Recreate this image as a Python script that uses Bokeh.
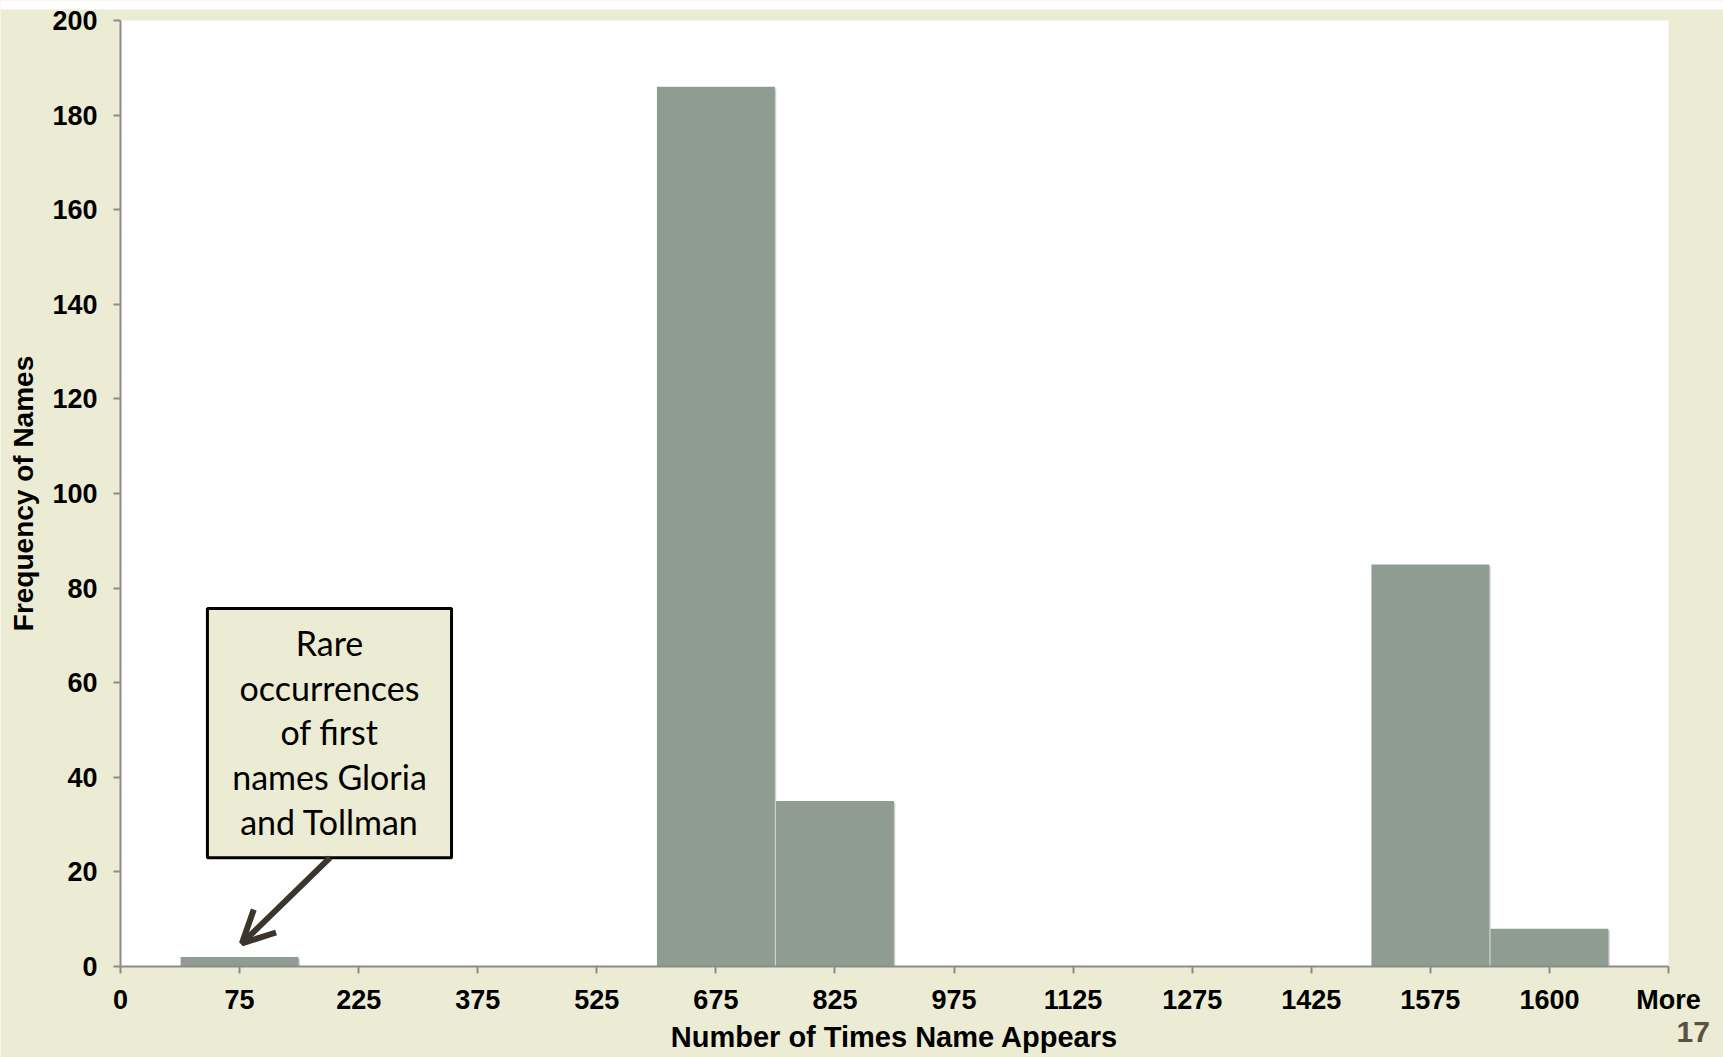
from bokeh.plotting import figure
from bokeh.models import Range1d, FixedTicker, BoxAnnotation, Arrow, OpenHead, Label
from bokeh.embed import file_html
from bokeh.resources import INLINE

# ---- data ----
categories = ["0", "75", "225", "375", "525", "675", "825", "975",
              "1125", "1275", "1425", "1575", "1600", "More"]
counts = [0, 2, 0, 0, 0, 186, 35, 0, 0, 0, 0, 85, 8, 0]
y_ticks = [0, 20, 40, 60, 80, 100, 120, 140, 160, 180, 200]
note_lines = ["Rare", "occurrences", "of first", "names Gloria", "and Tollman"]
page_number = "17"

BEIGE = "#ECEBD3"
BAR = "#8e9c92"
AXIS = "#8c8c8c"

# ---- page layout (pixels) ----
W, H = 1723, 1057
PLOT_L, PLOT_R, PLOT_T, PLOT_B = 120, 1668, 20, 966
Y_MAX = 200
n_pos = len(categories) - 1

positions = list(range(len(categories)))

# The frame spans the whole page so that the page number can sit outside the
# plot area; the axes are pinned to the data origin.
ux = (PLOT_R - PLOT_L) / n_pos
uy = (PLOT_B - PLOT_T) / Y_MAX
x_range = Range1d(-PLOT_L / ux, n_pos + (W - PLOT_R) / ux)
y_range = Range1d(-(H - PLOT_B) / uy, Y_MAX + PLOT_T / uy)

p = figure(width=W, height=H, x_range=x_range, y_range=y_range,
           output_backend="svg", toolbar_location=None,
           min_border_left=0, min_border_right=0,
           min_border_top=0, min_border_bottom=0)

p.background_fill_color = BEIGE
p.border_fill_color = BEIGE
p.outline_line_color = None
p.xgrid.visible = False
p.ygrid.visible = False

# white plot area
p.add_layout(BoxAnnotation(left=0, right=n_pos, bottom=0, top=Y_MAX,
                           fill_color="white", fill_alpha=1.0,
                           line_color=None, level="underlay"))
# thin white strip along the top of the page
p.add_layout(BoxAnnotation(left=0, right=W, bottom=H - 9, top=H,
                           left_units="screen", right_units="screen",
                           bottom_units="screen", top_units="screen",
                           fill_color="white", fill_alpha=1.0,
                           line_color=None, level="underlay"))

# shadow + bars
p.vbar(x=[x + 0.012 for x in positions], top=[max(c - 0.4, 0) for c in counts],
       width=0.99, fill_color="#6f7a72", fill_alpha=0.35, line_color=None)
p.vbar(x=positions, top=counts, width=0.99, fill_color=BAR, line_color=None)

p.xaxis.ticker = FixedTicker(ticks=positions)
p.xaxis.major_label_overrides = {i: c for i, c in enumerate(categories)}
p.yaxis.ticker = FixedTicker(ticks=y_ticks)
p.xaxis.fixed_location = 0
p.yaxis.fixed_location = 0
p.xaxis.bounds = (0, n_pos)
p.yaxis.bounds = (0, Y_MAX)

for ax in (p.xaxis, p.yaxis):
    ax.axis_line_color = AXIS
    ax.axis_line_width = 2
    ax.major_tick_line_color = AXIS
    ax.major_tick_line_width = 2
    ax.major_tick_out = 7
    ax.major_tick_in = 0
    ax.minor_tick_line_color = None
    ax.major_label_text_font = "Liberation Sans"
    ax.major_label_text_font_style = "bold"
    ax.major_label_text_font_size = "27px"
    ax.major_label_text_color = "black"
    ax.axis_label_text_font = "Liberation Sans"
    ax.axis_label_text_font_style = "bold"
    ax.axis_label_text_color = "black"

p.xaxis.axis_label = "Number of Times Name Appears"
p.xaxis.axis_label_text_font_size = "29px"
p.xaxis.major_label_standoff = 11
p.xaxis.axis_label_standoff = 3
p.yaxis.axis_label = "Frequency of Names"
p.yaxis.axis_label_text_font_size = "28px"
p.yaxis.major_label_standoff = 16
p.yaxis.axis_label_standoff = 10

# ---- annotation ----
box = BoxAnnotation(left=0.73, right=2.78, bottom=23.0, top=75.7,
                    fill_color=BEIGE, fill_alpha=1.0,
                    line_color="black", line_alpha=1.0, line_width=3)
p.add_layout(box)

note_cx = 1.755
note_top = 68.5
note_step = 9.45
for i, ln in enumerate(note_lines):
    p.add_layout(Label(x=note_cx, y=note_top - i * note_step, text=ln,
                       text_font="Lato", text_font_size="34px",
                       text_align="center", text_baseline="middle",
                       text_color="black"))

arrow_color = "#3b352c"
p.add_layout(Arrow(x_start=1.76, y_start=23.0, x_end=1.02, y_end=4.9,
                   line_width=6, line_color=arrow_color,
                   end=OpenHead(size=32, line_width=6, line_color=arrow_color)))

# page number (screen units)
p.add_layout(Label(x=1676, y=26, x_units="screen", y_units="screen",
                   text=page_number, level="overlay",
                   text_font="Liberation Sans", text_font_style="bold",
                   text_font_size="30px", text_color="#5c5044",
                   text_align="left", text_baseline="alphabetic"))

open("out.html", "w").write(file_html(p, INLINE))
